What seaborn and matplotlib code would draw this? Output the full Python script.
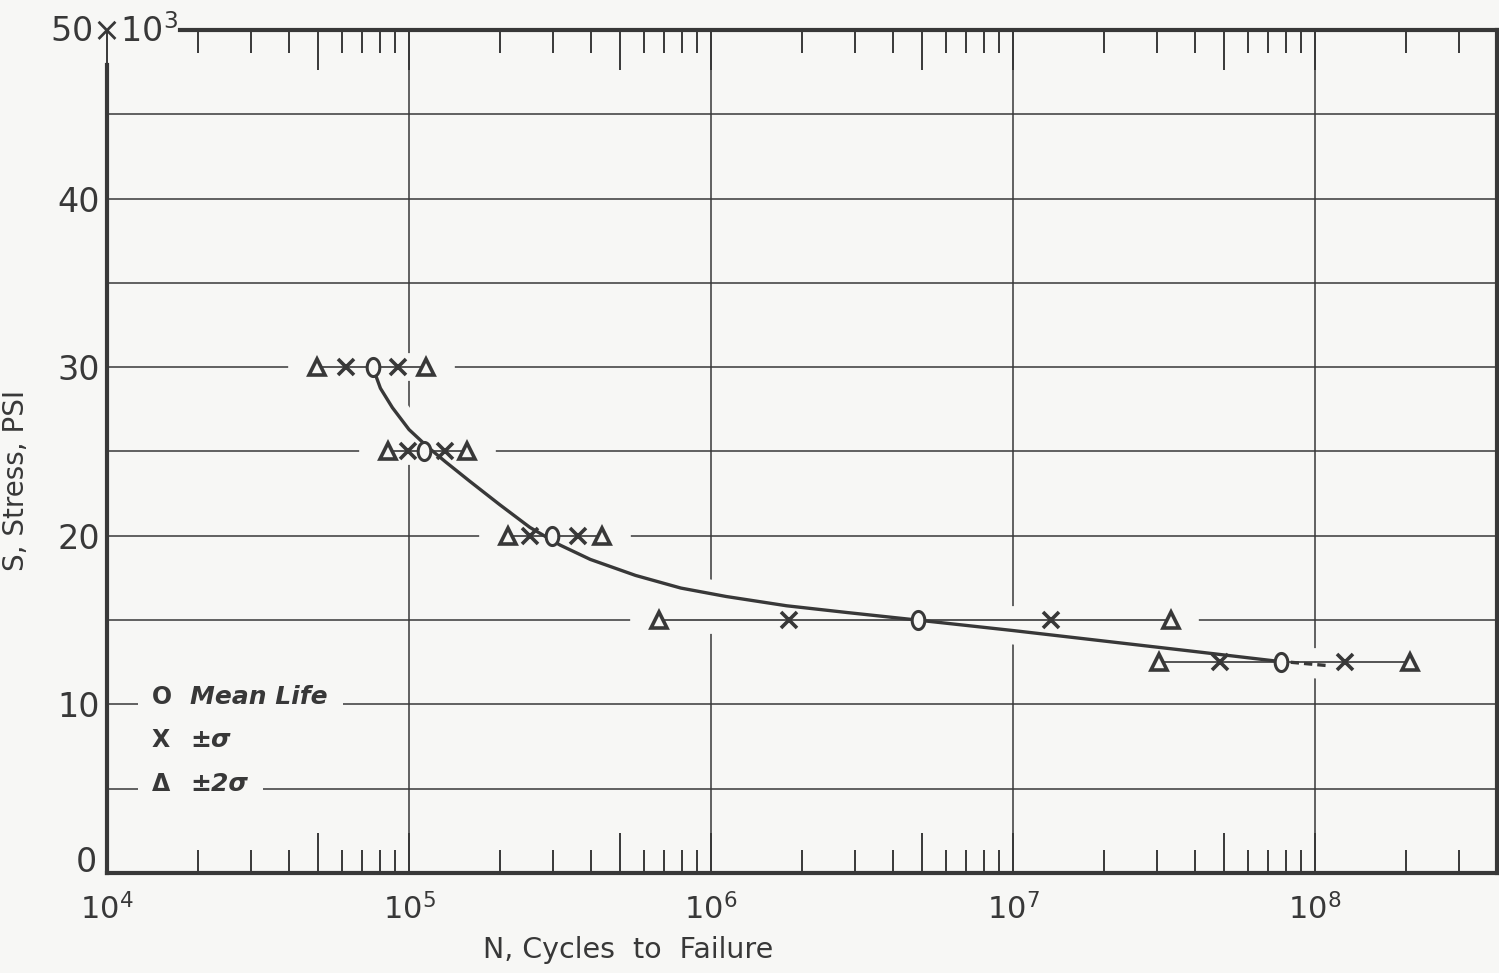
import numpy as np
import pandas as pd
import matplotlib
matplotlib.use('Agg')
import matplotlib.pyplot as plt
import matplotlib.transforms as mtransforms
from matplotlib.ticker import FixedLocator, FuncFormatter, NullFormatter
import seaborn as sns

# stress levels (ksi) and cycles to failure for each level
stress = [30, 25, 20, 15, 12.5]
n_minus_2sd = [4.94e4, 8.5e4, 2.13e5, 6.73e5, 3.03e7]
n_minus_1sd = [6.2e4, 9.9e4, 2.52e5, 1.81e6, 4.85e7]
n_mean = [7.57e4, 1.12e5, 2.98e5, 4.83e6, 7.72e7]
n_plus_1sd = [9.2e4, 1.32e5, 3.63e5, 1.33e7, 1.26e8]
n_plus_2sd = [1.14e5, 1.56e5, 4.37e5, 3.32e7, 2.06e8]

# faired S-N curve
curve_n = [7.69e4, 8.04e4, 8.81e4, 1.0e5, 1.148e5, 1.318e5, 1.585e5,
           1.995e5, 2.512e5, 3.162e5, 3.981e5, 5.623e5, 7.943e5, 1.122e6,
           1.778e6, 2.818e6, 4.83e6, 1.0e7, 1.995e7, 3.981e7, 7.59e7]
curve_s = [29.7, 28.75, 27.6, 26.3, 25.3, 24.4, 23.25,
           21.85, 20.5, 19.45, 18.6, 17.65, 16.9, 16.4,
           15.85, 15.45, 15.0, 14.38, 13.76, 13.14, 12.55]
# dashed extension past the last mean point
ext_n = [8.3e7, 1.1e8]
ext_s = [12.5, 12.3]

legend_marks = ['O', 'X', 'Δ']
legend_text = ['Mean Life', '±σ', '±2σ']

bg = '#f7f7f5'
ink = '#383838'

sns.set_theme(style='white')
plt.rcParams['font.family'] = ['DejaVu Sans']
plt.rcParams['text.color'] = ink

fig = plt.figure(figsize=(14.99, 9.73), dpi=100, facecolor=bg)
ax = fig.add_axes([107/1499, 1 - 873/973, 1390/1499, 843/973])
ax.set_facecolor(bg)
ax.set_xscale('log')
ax.set_xlim(1e4, 4e8)
ax.set_ylim(0, 50)

# grid: decades and every 5 ksi
for d in [1e5, 1e6, 1e7, 1e8]:
    ax.axvline(d, color=ink, lw=1.1, zorder=0.5)
for s in np.arange(5, 50, 5):
    ax.axhline(s, color=ink, lw=1.1, zorder=0.5)

# white gaps in the grid around the data rows and the curve
for i, s in enumerate(stress):
    ax.plot([n_minus_2sd[i] / 1.12, n_plus_2sd[i] * 1.12], [s, s], color=bg,
            lw=20, solid_capstyle='round', zorder=1)
ax.plot(curve_n, curve_s, color=bg, lw=20, solid_capstyle='round', zorder=1)
ax.plot(ext_n, ext_s, color=bg, lw=20, solid_capstyle='round', zorder=1)

# horizontal scatter bands
rows = pd.DataFrame({'N': [v for pair in zip(n_minus_2sd, n_plus_2sd) for v in pair],
                     'S': [s for s in stress for _ in range(2)]})
sns.lineplot(data=rows, x='N', y='S', units='S', estimator=None, color=ink,
             lw=1.2, legend=False, ax=ax, zorder=2)

# S-N curve
sns.lineplot(x=curve_n, y=curve_s, sort=False, estimator=None, color=ink,
             lw=2.4, ax=ax, zorder=3)
ax.plot(ext_n, ext_s, color=ink, lw=2.4, ls=(0, (2.5, 1.5)), zorder=3)

# markers
t = np.linspace(0, 2 * np.pi, 60)
ellipse = np.column_stack([0.7 * np.cos(t), np.sin(t)])
ax.plot(n_mean, stress, ls='none', marker=ellipse, ms=13, mfc=bg, mec=ink,
        mew=2.2, zorder=4)
ax.plot(n_minus_1sd + n_plus_1sd, stress + stress, ls='none', marker='x',
        ms=11, mec=ink, mew=2.6, zorder=4)
ax.plot(n_minus_2sd + n_plus_2sd, stress + stress, ls='none', marker='^',
        ms=11, mfc=bg, mec=ink, mew=2.6, zorder=4)

# axes, ticks
for sp in ax.spines.values():
    sp.set_color(ink)
    sp.set_linewidth(3)
    sp.set_visible(True)
ax.spines['left'].set_bounds(0, 47.9)
ax.spines['top'].set_bounds(1.74e4, 4e8)

decades = [1e4, 1e5, 1e6, 1e7, 1e8]
majors = decades + [5 * d for d in decades if 5 * d < 4e8]
minors = [k * d for d in decades for k in (2, 3, 4, 6, 7, 8, 9) if k * d < 4e8]
ax.xaxis.set_major_locator(FixedLocator(majors))
ax.xaxis.set_minor_locator(FixedLocator(minors))
ax.xaxis.set_major_formatter(FuncFormatter(
    lambda v, p: '$10^{%d}$' % round(np.log10(v)) if v in decades else ''))
ax.xaxis.set_minor_formatter(NullFormatter())
ax.tick_params(axis='x', which='major', direction='in', length=29, width=1.4,
               color=ink, top=True, bottom=True, labelsize=22, pad=14,
               labelcolor=ink)
ax.tick_params(axis='x', which='minor', direction='in', length=16.5,
               width=1.4, color=ink, top=True, bottom=True)

ax.set_yticks([10, 20, 30, 40])
ax.set_yticklabels(['10', '20', '30', '40'])
ax.tick_params(axis='y', length=0, labelsize=24, pad=5, labelcolor=ink)

yblend = mtransforms.blended_transform_factory(ax.transAxes, ax.transData)
ax.text(-0.007, 0.65, '0', transform=yblend, ha='right', va='center',
        fontsize=24, color=ink)
ax.text(0.051, 49.9, '50×10$^3$', transform=yblend, ha='right',
        va='center', fontsize=24, color=ink)

ax.set_ylabel('S, Stress, PSI', fontsize=20, color=ink)
ax.yaxis.set_label_coords(-0.0554, 0.466)
ax.set_xlabel('N, Cycles  to  Failure', fontsize=20.5, color=ink)
ax.xaxis.set_label_coords(0.375, -0.091)
ax.xaxis.label.set_va('center')

# legend block
for mark, txt, y in zip(legend_marks, legend_text, [10.44, 7.89, 5.28]):
    ax.text(0.0324, y, mark, transform=yblend, ha='left', va='center',
            fontsize=17, fontweight='bold', color=ink, zorder=5,
            bbox=dict(boxstyle='square,pad=0.6', fc=bg, ec='none'))
    ax.text(0.06, y, txt, transform=yblend, ha='left', va='center',
            fontsize=18, fontweight='bold', fontstyle='italic', color=ink,
            zorder=5, bbox=dict(boxstyle='square,pad=0.6', fc=bg, ec='none'))

fig.savefig('out.png', dpi=100, facecolor=bg)
